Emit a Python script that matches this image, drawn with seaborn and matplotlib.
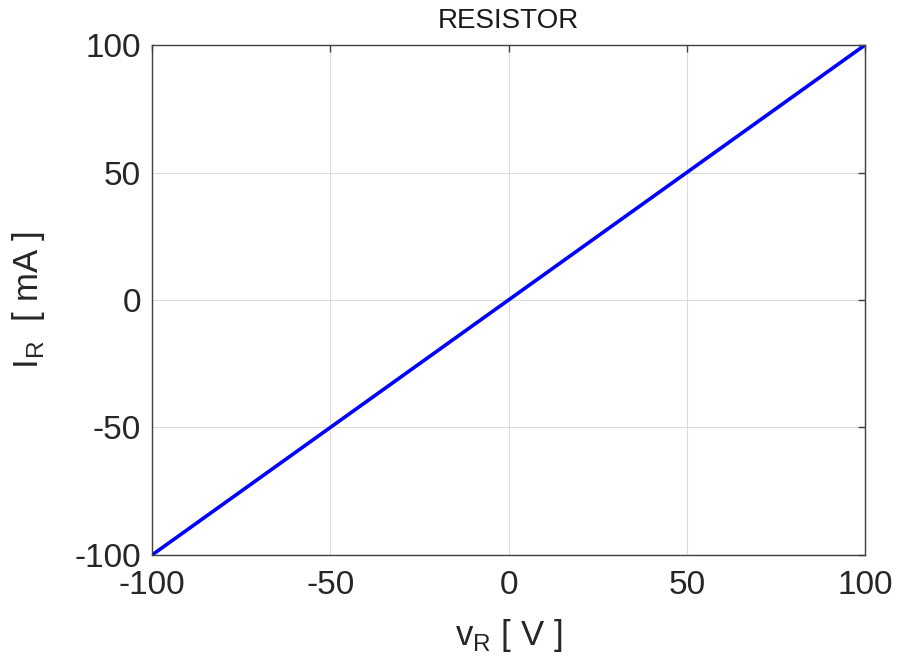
import numpy as np
import pandas as pd
import matplotlib
matplotlib.use("Agg")
import matplotlib.pyplot as plt
import seaborn as sns

# voltage / current pairs
v_R = [-100, -50, 0, 50, 100]
i_R = [-100, -50, 0, 50, 100]
ticks = [-100, -50, 0, 50, 100]

df = pd.DataFrame({"v": v_R, "i": i_R})

sns.set_style("white")
plt.rcParams['font.family'] = ['Liberation Sans', 'DejaVu Sans']
plt.rcParams['mathtext.fontset'] = 'custom'
plt.rcParams['mathtext.rm'] = 'Liberation Sans'
plt.rcParams['axes.unicode_minus'] = False

fig = plt.figure(figsize=(8.97, 6.68), dpi=100)
ax = fig.add_axes([0.1695, 0.1692, 0.7948, 0.7634])

sns.lineplot(data=df, x="v", y="i", color="#0000ff", linewidth=2.6, ax=ax)

ax.set_xlim(-100, 100)
ax.set_ylim(-100, 100)
ax.set_xticks(ticks)
ax.set_yticks(ticks)
ax.grid(True, color="#dcdcdc", linewidth=0.8)
ax.set_axisbelow(True)
for s in ax.spines.values():
    s.set_color("#404040")
    s.set_linewidth(1.0)
ax.tick_params(direction="in", length=5, width=1, colors="#404040",
               labelcolor="#262626", labelsize=24, top=True, right=True)
ax.tick_params(axis="x", pad=11)
ax.tick_params(axis="y", pad=8)

ax.set_title("RESISTOR", fontsize=20, color="#1a1a1a", pad=12)
ax.set_xlabel(r"v$_\mathregular{R}$ [ V ]", fontsize=25, color="#262626", labelpad=11)
ax.set_ylabel(r"I$_\mathregular{R}$  [ mA ]", fontsize=25, color="#262626", labelpad=20)

fig.savefig("out.png", dpi=100)
